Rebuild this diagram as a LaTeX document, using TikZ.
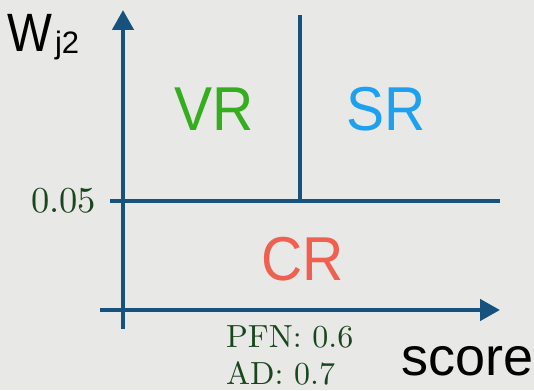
\documentclass[tikz,border=0pt]{standalone}
\usepackage{fontspec}
\newfontfamily\lab{Liberation Sans}
\usetikzlibrary{arrows.meta}
\definecolor{bg}{HTML}{E8E9E6}
\definecolor{axis}{HTML}{17527F}
\definecolor{vrg}{HTML}{34AE1E}
\definecolor{srb}{HTML}{1EA0F0}
\definecolor{crr}{HTML}{F06050}
\definecolor{num}{HTML}{1A461E}
\tikzset{
  axisline/.style={draw=axis, line width=4.5pt, -{Triangle[length=20pt,width=21pt]}},
  divline/.style={draw=axis, line width=3.8pt},
  region/.style={inner sep=0pt, anchor=base west, font=\lab\fontsize{62}{62}\selectfont, xscale=0.92},
  axlabel/.style={inner sep=0pt, anchor=base west, text=black},
  numlabel/.style={inner sep=0pt, anchor=base west, text=num, font=\fontsize{10}{12}\selectfont}
}
\begin{document}
\begin{tikzpicture}[x=1pt,y=-1pt]
  \fill[bg] (0,0) rectangle (534,390);
  \useasboundingbox (0,0) rectangle (534,390);
  % coordinates
  \coordinate (yb) at (123,329);
  \coordinate (yt) at (123,10);
  \coordinate (xl) at (100,310);
  \coordinate (xr) at (500,310);
  \coordinate (hl) at (110,201);
  \coordinate (hr) at (500,201);
  \coordinate (vt) at (300,15);
  \coordinate (vb) at (300,201);
  % dividers
  \draw[divline] (hl) -- (hr);
  \draw[divline] (vt) -- (vb);
  % axes
  \draw[axisline] (yb) -- (yt);
  \draw[axisline] (xl) -- (xr);
  % labels
  \node[axlabel, font=\lab\fontsize{54}{54}\selectfont] (w) at (7,52) {\scalebox{0.88}[1]{W}\hspace{3pt}\raisebox{-2pt}{\fontsize{31}{31}\selectfont j2}};
  \node[axlabel, font=\lab\fontsize{54}{54}\selectfont] (score) at (401,375) {score};
  \node[region, text=vrg] (vr) at (174,131) {VR};
  \node[region, text=srb] (sr) at (346,131) {SR};
  \node[region, text=crr] (cr) at (261,280) {CR};
  \node[numlabel] (th) at (31,212) {\scalebox{3.65}{0.05}};
  \node[numlabel] (pfn) at (226,347) {\scalebox{3.2}{PFN: 0.6}};
  \node[numlabel] (ad) at (226,384) {\scalebox{3.2}{AD: 0.7}};
\end{tikzpicture}
\end{document}
